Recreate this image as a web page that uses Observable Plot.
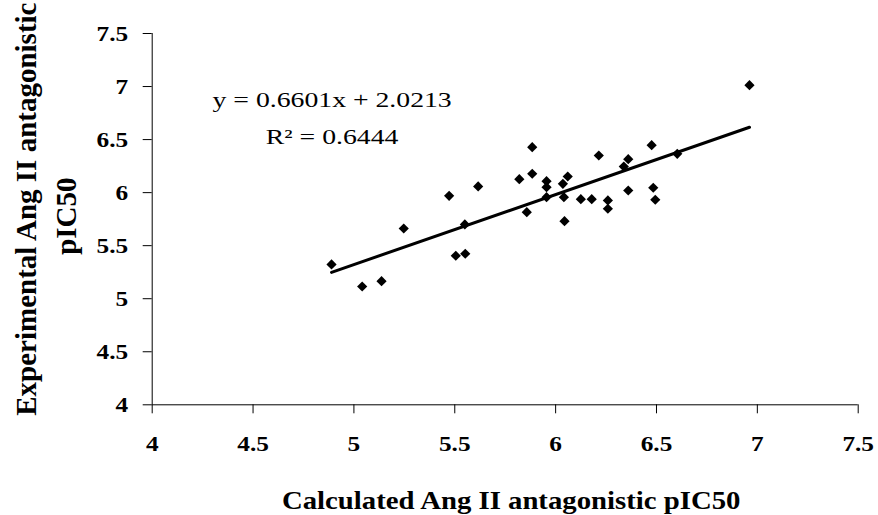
<!DOCTYPE html>
<html><head><meta charset="utf-8">
<script src="https://cdn.jsdelivr.net/npm/d3@7"></script>
<script src="https://cdn.jsdelivr.net/npm/@observablehq/plot@0.6"></script>
<style>html,body{margin:0;padding:0;background:#fff}</style>
</head><body><div id="chart"></div>
<script>
// ---- data ----
const calculated = [4.889,5.041,5.137,5.247,5.472,5.505,5.550,5.552,5.616,5.820,5.857,5.884,5.884,5.955,5.955,5.955,6.036,6.041,6.044,6.060,6.125,6.179,6.214,6.259,6.259,6.338,6.360,6.360,6.476,6.484,6.494,6.603,6.961];
const experimental = [5.323,5.115,5.165,5.662,5.970,5.405,5.700,5.424,6.058,6.127,5.816,6.428,6.178,6.108,6.051,5.957,6.083,5.957,5.731,6.152,5.938,5.938,6.350,5.926,5.848,6.246,6.315,6.020,6.447,6.046,5.933,6.366,7.013];
const xTicks = [4, 4.5, 5, 5.5, 6, 6.5, 7, 7.5];
const yTicks = [4, 4.5, 5, 5.5, 6, 6.5, 7, 7.5];
const slope = 0.6601, intercept = 2.0213, rSquared = 0.6444;
const xTitle = "Calculated Ang II antagonistic pIC50";
const yTitle = ["Experimental Ang II antagonistic", "pIC50"];
const equationLines = [`y = ${slope}x + ${intercept}`, `R² = ${rSquared}`];

// ---- layout (annotation anchor in data units) ----
const eqAnchor = {x: 4.892, y: [6.803, 6.454]};
const serif = "'Liberation Serif', 'Times New Roman', Times, serif";

const points = calculated.map((x, i) => ({x, y: experimental[i]}));
const fit = d3.extent(calculated).map(x => ({x, y: slope * x + intercept}));
const eqData = equationLines.map((t, i) => ({t, x: eqAnchor.x, y: eqAnchor.y[i]}));
const fmt = d => String(d);

const svg = Plot.plot({
  width: 878, height: 515,
  marginLeft: 151.7, marginRight: 20.3, marginTop: 33, marginBottom: 110.7,
  style: {fontFamily: serif, background: "#fff", color: "#000", overflow: "hidden"},
  x: {domain: [4, 7.5]},
  y: {domain: [4, 7.5]},
  marks: [
    Plot.ruleY([4], {stroke: "#000", strokeWidth: 1}),
    Plot.ruleX([4], {stroke: "#000", strokeWidth: 1}),
    Plot.axisX({ticks: xTicks, tickFormat: fmt, tickSize: 9, tickPadding: 22, fontSize: 22, fontWeight: "bold", label: null, stroke: "#000", strokeOpacity: 1}),
    Plot.axisY({ticks: yTicks, tickFormat: fmt, tickSize: 9, tickPadding: 15, fontSize: 22, fontWeight: "bold", label: null, stroke: "#000", strokeOpacity: 1}),
    Plot.line(fit, {x: "x", y: "y", stroke: "#000", strokeWidth: 3}),
    Plot.dot(points, {x: "x", y: "y", symbol: "diamond2", r: 4.6, fill: "#000", stroke: "none"}),
    Plot.text(eqData, {x: "x", y: "y", text: "t", lineAnchor: "bottom", textAnchor: "middle", fontSize: 21, fill: "#000", ariaLabel: () => "equation"}),
    Plot.text([xTitle], {frameAnchor: "bottom", dx: 6, dy: 103.7, lineAnchor: "bottom", textAnchor: "middle", fontSize: 25, fontWeight: "bold", fill: "#000", ariaLabel: () => "x-title"}),
    Plot.text([yTitle[0]], {frameAnchor: "left", rotate: -90, dx: -116.7, dy: -10, lineAnchor: "bottom", textAnchor: "middle", fontSize: 29, fontWeight: "bold", fill: "#000"}),
    Plot.text([yTitle[1]], {frameAnchor: "left", rotate: -90, dx: -76.7, dy: -3, lineAnchor: "bottom", textAnchor: "middle", fontSize: 29, fontWeight: "bold", fill: "#000"})
  ]
});
document.getElementById("chart").append(svg);

// horizontal widening of text, as in the reference rendering
const stretch = {"x-axis tick label": 1.15, "y-axis tick label": 1.15, "equation": 1.32, "x-title": 1.15};
for (const [label, f] of Object.entries(stretch)) {
  svg.querySelectorAll(`g[aria-label="${label}"] text, text[aria-label="${label}"]`).forEach(t => {
    const L = t.getComputedTextLength();
    t.setAttribute("textLength", L * f);
    t.setAttribute("lengthAdjust", "spacingAndGlyphs");
  });
}
</script>
</body></html>
